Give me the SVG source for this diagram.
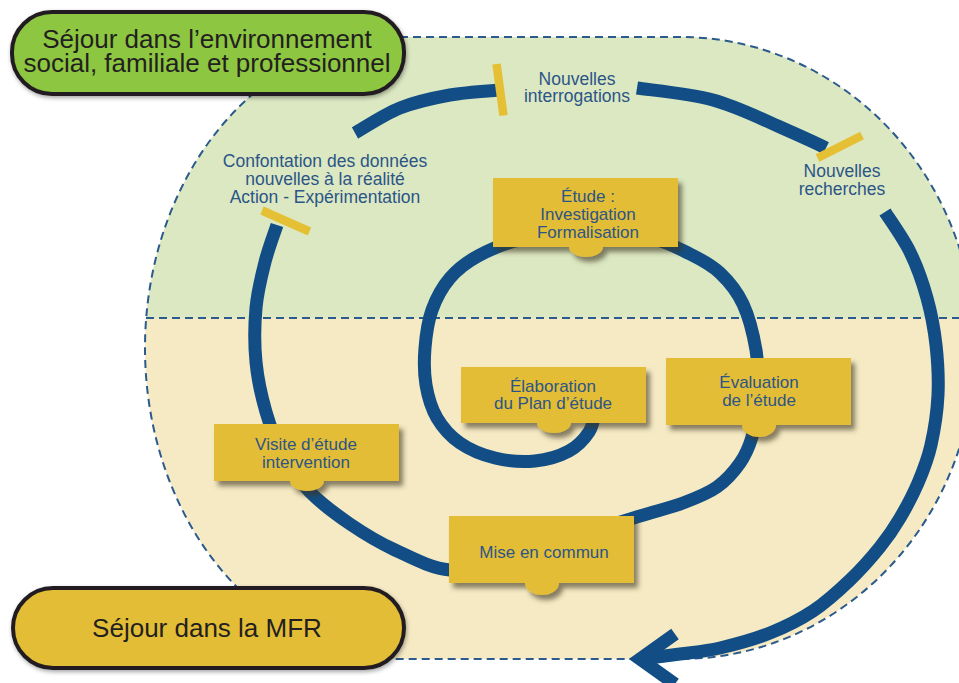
<svg xmlns="http://www.w3.org/2000/svg" width="959" height="683" viewBox="0 0 959 683">
<defs>
<style>
.box{fill:#e3bd35;filter:url(#sh)}
.t{font-family:"Liberation Sans",Arial,Helvetica,sans-serif;fill:#2c5587;text-anchor:middle}
.bt{font-size:17px}
.lt{font-size:17.5px}
.sp{fill:none;stroke:#124e85;stroke-width:13}
.tick{stroke:#e5c034;stroke-width:8.5;fill:none}
.pill{stroke:#231f20;stroke-width:4}
.pt{font-family:"Liberation Sans",Arial,Helvetica,sans-serif;font-size:26px;fill:#231f20;text-anchor:middle}
.dash{fill:none;stroke:#2b5a8c;stroke-width:2;stroke-dasharray:8 5}
</style>
<filter id="sh" x="-10%" y="-15%" width="125%" height="150%">
<feDropShadow dx="4" dy="5" stdDeviation="2.5" flood-color="#3a3622" flood-opacity="0.6"/>
</filter>
<filter id="psh" x="-10%" y="-20%" width="125%" height="150%">
<feDropShadow dx="1" dy="2" stdDeviation="2" flood-color="#000" flood-opacity="0.35"/>
</filter>
<clipPath id="zone"><path d="M400,37 L680,37 A295,311 0 0 1 680,659 L400,659 A255,311 0 0 1 400,37 Z"/></clipPath>
</defs>

<g id="zones">
<path d="M400,37 L680,37 A295,311 0 0 1 680,659 L400,659 A255,311 0 0 1 400,37 Z" fill="#f5eac4"/>
<rect x="0" y="0" width="959" height="318" fill="#dbe8c2" clip-path="url(#zone)"/>
<path class="dash" d="M400,37 L680,37 A295,311 0 0 1 680,659 L400,659 A255,311 0 0 1 400,37 Z"/>
<line class="dash" x1="146" y1="318" x2="959" y2="318"/>
</g>

<g id="connectors">
<path class="sp" d="M596,410 C594.8,413.7 593.5,425.2 589,432 C584.5,438.8 578,446.2 569,451 C560,455.8 547.3,459.8 535,461 C522.7,462.2 507.5,461 495,458 C482.5,455 469.7,449.7 460,443 C450.3,436.3 442.7,427.7 437,418 C431.3,408.3 428,396.7 426,385 C424,373.3 424,360.5 425,348 C426,335.5 427.8,321.7 432,310 C436.2,298.3 442.3,287 450,278 C457.7,269 466.3,262.3 478,256 C489.7,249.7 501.3,244 520,240 C538.7,236 568.3,232.3 590,232 C611.7,231.7 633.3,234.3 650,238 C666.7,241.7 678.3,248.2 690,254 C701.7,259.8 711.2,264.7 720,273 C728.8,281.3 737,291.2 743,304 C749,316.8 753.3,334.3 756,350 C758.7,365.7 759.7,383.5 759,398 C758.3,412.5 755.2,426.2 752,437 C748.8,447.8 745.8,454.7 740,463 C734.2,471.3 726.5,480.3 717,487 C707.5,493.7 695.8,498.2 683,503 C670.2,507.8 657.2,510.7 640,516 C622.8,521.3 601.7,527.7 580,535 C558.3,542.3 531.7,554.2 510,560 C488.3,565.8 469.2,571.7 450,570 C430.8,568.3 411.7,557.7 395,550 C378.3,542.3 364.2,533.7 350,524 C335.8,514.3 321.2,503.5 310,492 C298.8,480.5 290.3,468.3 283,455 C275.7,441.7 270.5,427.5 266,412 C261.5,396.5 257.7,379.3 256,362 C254.3,344.7 254.5,324.7 256,308 C257.5,291.3 261.5,275.8 265,262 C268.5,248.2 275,231.2 277,225"/>
<path class="sp" d="M355,133 C362.5,128.8 384.2,114.3 400,108 C415.8,101.7 433.3,98 450,95 C466.7,92 491.7,90.8 500,90"/>
<path class="sp" d="M637,88 C649.7,90 689.2,93.5 713,100 C736.8,106.5 761.2,118.7 780,127 C798.8,135.3 818.3,144.2 826,148"/>
<path class="sp" d="M885,212 C889.2,218.7 903,237.7 910,252 C917,266.3 922.7,282.5 927,298 C931.3,313.5 934.2,328.8 936,345 C937.8,361.2 938.8,378.3 938,395 C937.2,411.7 934.3,430.3 931,445 C927.7,459.7 923.2,470.8 918,483 C912.8,495.2 906.3,507.3 900,518 C893.7,528.7 888.3,536.7 880,547 C871.7,557.3 861.2,569.3 850,580 C838.8,590.7 826.3,602.2 813,611 C799.7,619.8 785.5,626.8 770,633 C754.5,639.2 735,644.5 720,648 C705,651.5 693.3,652.2 680,654 C666.7,655.8 646.7,658.2 640,659"/>
<path class="sp" d="M675,634 L640,659 L675,684" stroke-linejoin="miter" stroke-miterlimit="10"/>
<line class="tick" x1="262" y1="210.5" x2="309.5" y2="231.5"/>
<line class="tick" x1="496.5" y1="64" x2="503.5" y2="115.5"/>
<line class="tick" x1="817.5" y1="158" x2="862" y2="135.5"/>
</g>

<g id="label-confrontation">
<text class="t lt" x="325" y="167">Confontation des données</text>
<text class="t lt" x="325" y="185">nouvelles à la réalité</text>
<text class="t lt" x="325" y="203">Action - Expérimentation</text>
</g>
<g id="label-interrogations">
<text class="t lt" x="577" y="85">Nouvelles</text>
<text class="t lt" x="577" y="102">interrogations</text>
</g>
<g id="label-recherches">
<text class="t lt" x="842" y="177">Nouvelles</text>
<text class="t lt" x="842" y="195">recherches</text>
</g>

<g id="node-etude">
<path class="box" d="M493,178 H678 V247 H603 A17,10 0 0 1 569,247 H493 Z"/>
<text class="t bt" x="588" y="202">Étude :</text>
<text class="t bt" x="588" y="220">Investigation</text>
<text class="t bt" x="588" y="238">Formalisation</text>
</g>
<g id="node-elaboration">
<path class="box" d="M461,367 H646 V423 H571 A17,10 0 0 1 537,423 H461 Z"/>
<text class="t bt" x="553" y="392">Élaboration</text>
<text class="t bt" x="553" y="409">du Plan d’étude</text>
</g>
<g id="node-evaluation">
<path class="box" d="M666,358 H851 V425 H776 A17,12 0 0 1 742,425 H666 Z"/>
<text class="t bt" x="759" y="388">Évaluation</text>
<text class="t bt" x="759" y="406">de l’étude</text>
</g>
<g id="node-visite">
<path class="box" d="M214,424 H399 V481 H324 A17,10 0 0 1 290,481 H214 Z"/>
<text class="t bt" x="306" y="450">Visite d’étude</text>
<text class="t bt" x="306" y="468">intervention</text>
</g>
<g id="node-mise">
<path class="box" d="M449,516 H634 V583 H559 A17,12 0 0 1 525,583 H449 Z"/>
<text class="t bt" x="544" y="558">Mise en commun</text>
</g>

<g id="node-environnement">
<rect class="pill" x="12" y="12" width="392" height="82" rx="40" fill="#8dc63f" filter="url(#psh)"/>
<text class="pt" x="207" y="48">Séjour dans l’environnement</text>
<text class="pt" x="207" y="72">social, familiale et professionnel</text>
</g>
<g id="node-mfr">
<rect class="pill" x="13" y="588" width="391" height="80" rx="40" fill="#e3bd35" filter="url(#psh)"/>
<text class="pt" x="207" y="637">Séjour dans la MFR</text>
</g>
</svg>
